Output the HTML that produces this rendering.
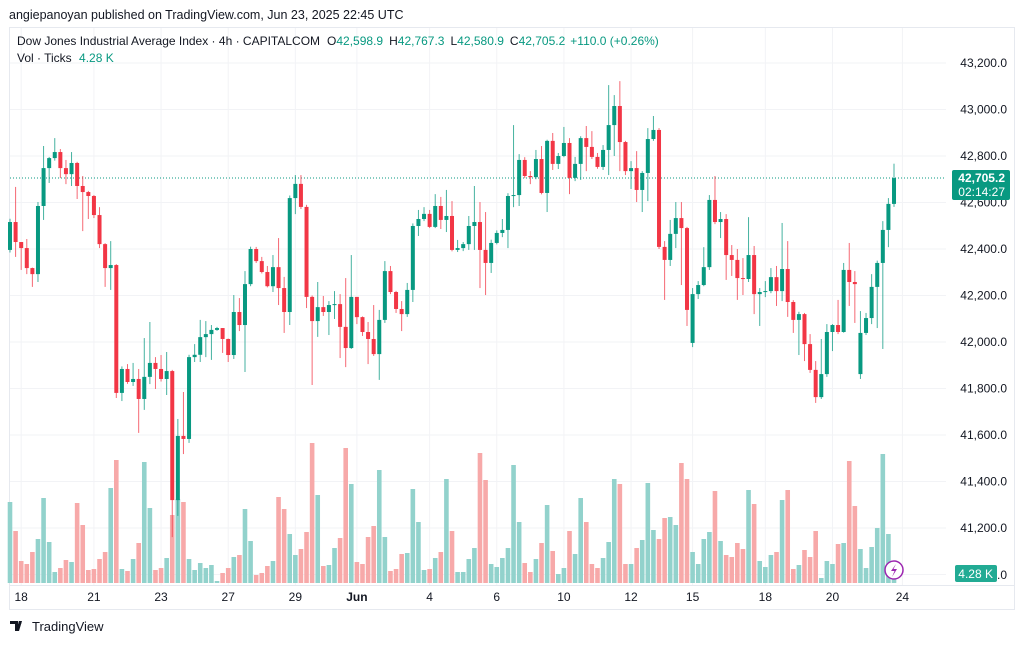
<!DOCTYPE html>
<html><head><meta charset="utf-8"><style>
body{margin:0;background:#fff;font-family:"Liberation Sans",sans-serif;}
svg text{font-family:"Liberation Sans",sans-serif;}
</style></head><body>
<svg id="chart" width="1024" height="642" viewBox="0 0 1024 642" xmlns="http://www.w3.org/2000/svg">
<rect x="0" y="0" width="1024" height="642" fill="#fff"/>
<text x="9" y="19" font-size="12.5" fill="#131722">angiepanoyan published on TradingView.com, Jun 23, 2025 22:45 UTC</text>
<rect x="9.5" y="27.5" width="1005" height="582" fill="none" stroke="#e6e9ef"/>
<g id="grid"></g>
<g id="vol"></g>
<line id="lastline" x1="10" x2="946" stroke="#089981" stroke-width="1" stroke-dasharray="1,2"/>
<g id="candles"></g>
<g id="yaxis"></g>
<g id="xaxis"></g>
<text x="17" y="45" font-size="12" fill="#131722">Dow Jones Industrial Average Index · 4h · CAPITALCOM<tspan dx="7">O</tspan><tspan fill="#089981">42,598.9</tspan><tspan dx="6">H</tspan><tspan fill="#089981">42,767.3</tspan><tspan dx="6">L</tspan><tspan fill="#089981">42,580.9</tspan><tspan dx="6">C</tspan><tspan fill="#089981">42,705.2</tspan><tspan dx="5" fill="#089981">+110.0 (+0.26%)</tspan></text>
<text x="17" y="62" font-size="12" fill="#131722">Vol · Ticks <tspan fill="#089981" dx="4">4.28 K</tspan></text>
<g>
<rect id="lastbox" x="952" width="58" height="30" rx="2" fill="#089981"/>
<text id="lasttxt1" x="1005" font-size="12" fill="#fff" text-anchor="end" font-weight="bold">42,705.2</text>
<text id="lasttxt2" x="1005" font-size="12" fill="#fff" text-anchor="end">02:14:27</text>
</g>
<text x="1007" y="579" font-size="12" fill="#131722" text-anchor="end">41,000.0</text>
<g>
<rect x="955" y="565" width="42" height="17" rx="2" fill="#22ab94"/>
<text x="993" y="578" font-size="12" fill="#fff" text-anchor="end">4.28 K</text>
</g>
<g>
<circle cx="894" cy="570" r="9" fill="#fff" stroke="#9c27b0" stroke-width="1.5"/>
<path d="M896 564 L891 571 L894.5 571 L892 577 L897 569 L893.5 569 Z" fill="#9c27b0"/>
</g>
<g>
<path d="M10 621 h8 v10 h-3 v-7 h-5z M19 621 h3 l-3 10 h-3 z" fill="#131722"/>
<circle cx="20" cy="622.5" r="1.5" fill="#131722"/>
<text x="32" y="631" font-size="13" fill="#131722">TradingView</text>
</g>
</svg>
<script>
const closes=[42516,42430,42404,42318,42292,42585,42748,42791,42817,42748,42722,42770,42671,42645,42628,42546,42421,42318,42331,41781,41884,41828,41841,41755,41850,41910,41884,41841,41875,41320,41596,41583,41935,41945,42021,42034,42052,42060,42013,41944,42129,42073,42249,42400,42348,42301,42240,42322,42232,42129,42619,42680,42581,42194,42090,42150,42129,42159,42163,42065,41974,42194,42107,42043,42013,41948,42095,42305,42215,42142,42120,42224,42499,42529,42551,42495,42585,42525,42542,42396,42404,42421,42499,42516,42396,42340,42426,42469,42482,42628,42632,42783,42714,42709,42787,42641,42865,42766,42800,42856,42706,42766,42877,42839,42796,42753,42826,42933,43015,42860,42735,42748,42654,42727,42873,42912,42409,42353,42465,42533,42490,42138,42206,42245,42322,42611,42516,42529,42374,42353,42275,42271,42374,42206,42215,42219,42279,42219,42314,42172,42095,42120,41991,41880,41763,41862,42043,42073,42043,42310,42258,42249,42039,42103,42237,42340,42482,42594,42705];
const highs=[42530,42667,42430,42443,42320,42602,42843,42796,42877,42830,42783,42817,42775,42714,42650,42632,42580,42425,42434,42335,41895,41905,41910,41884,42017,42086,41935,41944,41957,41880,41669,41785,41945,41991,42095,42090,42073,42065,42060,42015,42202,42189,42305,42410,42409,42366,42327,42374,42447,42280,42630,42718,42718,42590,42200,42258,42198,42176,42219,42206,42275,42374,42163,42110,42086,42159,42138,42348,42327,42220,42176,42254,42510,42568,42580,42568,42636,42624,42654,42606,42439,42430,42542,42671,42602,42559,42440,42480,42529,42640,42933,42808,42795,42735,42826,42843,42870,42899,42813,42925,42877,42796,42885,42929,42907,42813,42847,43105,43062,43122,42865,42778,42821,42735,42920,42972,42920,42434,42525,42602,42602,42495,42232,42262,42408,42632,42714,42559,42550,42417,42400,42361,42537,42413,42232,42262,42318,42327,42512,42434,42180,42130,42125,42034,41918,42013,42077,42077,42181,42340,42426,42305,42133,42125,42292,42350,42520,42619,42767];
const lows=[42385,42366,42310,42292,42237,42258,42525,42684,42780,42705,42679,42671,42615,42477,42529,42533,42404,42237,42224,41759,41746,41820,41811,41609,41708,41819,41798,41830,41772,41161,41252,41518,41566,41914,41914,41935,41923,42048,41953,41914,41927,42047,41871,42240,42340,42295,42235,42215,42159,42039,42073,42550,42572,42146,41815,42022,42112,42030,42099,41931,41892,41970,42077,42026,41905,41940,41837,42082,42206,42125,42047,42108,42172,42456,42520,42490,42490,42486,42473,42390,42387,42391,42396,42396,42232,42202,42297,42420,42451,42404,42580,42585,42705,42679,42700,42635,42559,42740,42744,42795,42636,42692,42697,42735,42787,42745,42740,42718,42800,42735,42718,42658,42602,42559,42606,42865,42400,42181,42327,42404,42245,42069,41978,42185,42240,42310,42507,42447,42267,42284,42181,42202,42258,42120,42069,42193,42210,42155,42176,42108,42039,41944,41918,41867,41738,41755,41850,41961,42034,42040,42155,42082,41841,42030,42077,42060,41970,42408,42581];
const firstOpen=42396;
const gapOpenIdx=[122,152];
const gapOpenVal=[41996,41862];
const volumes=[8.1,5.2,2.2,1.9,3.1,4.4,8.5,4.1,1.1,1.5,2.3,2.1,8.0,5.8,1.3,1.4,2.4,3.1,9.5,12.3,1.4,1.2,2.4,4.0,12.1,7.5,1.3,1.5,2.5,6.8,8.4,8.1,2.4,1.3,2.0,1.5,1.8,0.2,1.0,1.5,2.6,2.8,7.4,4.2,0.8,1.0,1.7,2.2,8.6,7.4,4.9,2.8,3.4,5.1,14.0,8.8,1.7,1.8,3.5,4.5,13.5,9.9,2.1,1.9,4.6,5.7,11.3,4.6,1.2,1.4,2.9,3.0,9.4,6.1,1.3,1.4,2.5,3.1,10.4,5.2,1.1,1.1,2.4,3.5,13.0,10.3,1.9,1.6,2.5,3.5,11.8,6.1,2.0,1.1,2.4,4.0,7.8,3.2,0.9,1.5,5.2,2.9,8.5,6.1,1.9,1.5,2.5,4.1,10.4,9.9,1.9,1.9,3.5,4.3,10.0,5.3,4.4,6.5,6.6,5.8,12.0,10.4,3.1,1.9,4.4,5.1,9.2,4.2,2.8,2.6,4.0,3.4,9.3,7.9,2.2,1.6,2.8,3.1,8.3,9.3,1.4,1.8,3.3,2.6,5.2,0.5,2.2,1.9,3.9,4.0,12.2,7.7,3.4,1.5,3.6,5.5,12.9,4.9,1.0];
const priceTicks=[41200,41400,41600,41800,42000,42200,42400,42600,42800,43000,43200];
const dateLabels=["18","21","23","27","29","Jun","4","6","10","12","15","18","20","24"];
const dateIdx=[2,15,27,39,51,62,75,87,99,111,122,135,147,159.5];
const lastPrice=42705.2;

const NS="http://www.w3.org/2000/svg";
const X0=10, DX=5.595, GREEN="#089981", RED="#f23645", VG="#92d2cc", VR="#f7a9a9";
function xs(i){return X0+i*DX;}
function ys(p){return 342-(p-42000)*0.2325;}
function vs(v){return v*10;}
function mk(tag,attrs,parent){const e=document.createElementNS(NS,tag);for(const k in attrs)e.setAttribute(k,attrs[k]);parent.appendChild(e);return e;}
const grid=document.getElementById('grid'),vol=document.getElementById('vol'),cg=document.getElementById('candles'),ya=document.getElementById('yaxis'),xa=document.getElementById('xaxis');
priceTicks.concat([41000]).forEach(p=>{
  const l=mk('line',{x1:10,x2:946,y1:ys(p),y2:ys(p),stroke:'#f2f3f6'},grid);
  
  
});
priceTicks.forEach(p=>{
  const t=mk('text',{x:1007,y:ys(p)+4,'font-size':12,fill:'#131722','text-anchor':'end'},ya);
  t.textContent=p.toLocaleString('en-US')+'.0';
  
  
});
dateLabels.forEach((d,k)=>{
  const x=xs(dateIdx[k]);
  const l=mk('line',{x1:x,x2:x,y1:28,y2:585,stroke:'#f2f3f6'},grid);
  
  
  const t=mk('text',{x:x,y:601,'font-size':12,fill:'#131722','text-anchor':'middle','font-weight':d==='Jun'?'bold':'normal'},xa);
  t.textContent=d;
  
  
});
const sep=mk('line',{x1:10,x2:1014,y1:585.5,y2:585.5,stroke:'#e6e9ef'},grid);


closes.forEach((c,i)=>{
  let o=i===0?firstOpen:closes[i-1];
  const g=gapOpenIdx.indexOf(i); if(g>=0)o=gapOpenVal[g];
  const up=c>=o, x=xs(i);
  const vh=vs(volumes[i]);
  const vb=mk('rect',{x:x-2.3,y:583-vh,width:4.6,height:vh,fill:up?VG:VR},vol);
  
  
  const wk=mk('line',{x1:x,x2:x,y1:ys(highs[i]),y2:ys(lows[i]),stroke:up?GREEN:RED,'stroke-width':1,opacity:0.75},cg);
  
  
  const top=ys(Math.max(o,c)),bot=ys(Math.min(o,c));
  const b=mk('rect',{x:x-2,y:top,width:4,height:Math.max(1,bot-top),fill:up?GREEN:RED},cg);
  
  
});
const ly=ys(lastPrice);
const ll=document.getElementById('lastline');ll.setAttribute('y1',ly);ll.setAttribute('y2',ly);
document.getElementById('lastbox').setAttribute('y',ly-8);
document.getElementById('lasttxt1').setAttribute('y',ly+4);
document.getElementById('lasttxt2').setAttribute('y',ly+18);
</script>
</body></html>
